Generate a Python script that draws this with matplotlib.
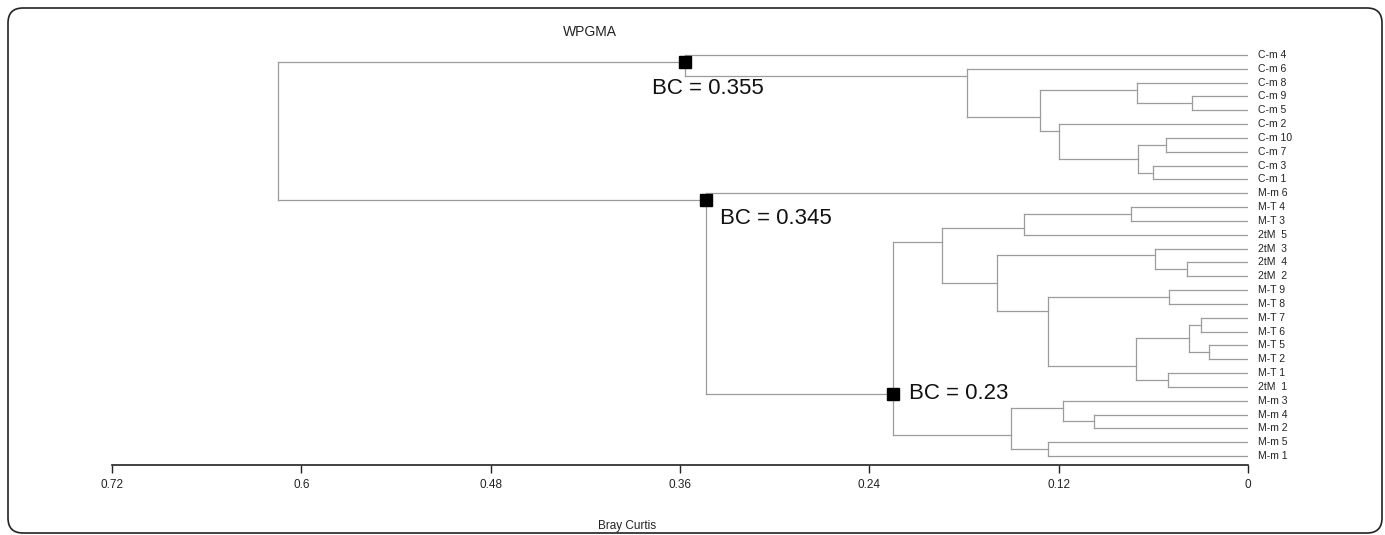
import matplotlib
matplotlib.use('Agg')
import matplotlib.pyplot as plt
from matplotlib.patches import FancyBboxPatch

plt.rcParams['font.family'] = ['Liberation Sans', 'DejaVu Sans']

# leaves in the order they are drawn, top to bottom
leaves = ['C-m 4', 'C-m 6', 'C-m 8', 'C-m 9', 'C-m 5', 'C-m 2', 'C-m 10', 'C-m 7',
          'C-m 3', 'C-m 1', 'M-m 6', 'M-T 4', 'M-T 3', '2tM  5', '2tM  3', '2tM  4',
          '2tM  2', 'M-T 9', 'M-T 8', 'M-T 7', 'M-T 6', 'M-T 5', 'M-T 2', 'M-T 1',
          '2tM  1', 'M-m 3', 'M-m 4', 'M-m 2', 'M-m 5', 'M-m 1']

# merges (like a linkage table): ids >= 30 refer to earlier merges (30 + row)
left = [3, 2, 6, 8, 32, 5, 31, 1, 0,
        11, 39, 15, 14, 17, 19, 21, 44, 23, 46, 43, 42, 40,
        26, 25, 28, 53, 51, 10, 38]
right = [4, 30, 7, 9, 33, 34, 35, 36, 37,
         12, 13, 16, 41, 18, 20, 22, 45, 24, 47, 48, 49, 50,
         27, 52, 29, 54, 55, 56, 57]
height = [0.0357, 0.0705, 0.0522, 0.060, 0.0699, 0.1196, 0.1318, 0.1783, 0.357,
          0.0739, 0.1417, 0.0387, 0.0591, 0.0503, 0.030, 0.0247, 0.0377, 0.0506,
          0.071, 0.1269, 0.159, 0.194,
          0.0976, 0.117, 0.127, 0.150, 0.225, 0.3435, 0.6148]

# annotated nodes
bc_nodes = [38, 57, 56]
bc_text = ['BC = 0.355', 'BC = 0.345', 'BC = 0.23']

xticks = [0.72, 0.6, 0.48, 0.36, 0.24, 0.12, 0]
xtick_labels = ['0.72', '0.6', '0.48', '0.36', '0.24', '0.12', '0']

fig = plt.figure(figsize=(13.85, 5.35), dpi=100)
ax = fig.add_axes([112 / 1385, 70 / 535, 1136 / 1385, 425 / 535])

line_col = '#9c9c9c'
n = len(leaves)
first, last, ypos, xpos = {}, {}, {}, {}
for i in range(n):
    first[i] = last[i] = i
    ypos[i] = i
    xpos[i] = 0.0

for k, (a, b, h) in enumerate(zip(left, right, height)):
    node = n + k
    first[node] = first[a]
    last[node] = last[b]
    ypos[node] = (last[a] + first[b]) / 2
    xpos[node] = h
    ax.plot([h, h], [ypos[a], ypos[b]], color=line_col, lw=0.9)
    ax.plot([xpos[a], h], [ypos[a], ypos[a]], color=line_col, lw=0.9)
    ax.plot([xpos[b], h], [ypos[b], ypos[b]], color=line_col, lw=0.9)

for i, name in enumerate(leaves):
    ax.text(-0.0063, i, name, ha='left', va='center', fontsize=7.5,
            color='#222222', clip_on=False)

offsets = [(-33, -27), (14, -18), (16, 0)]
for node, txt, off in zip(bc_nodes, bc_text, offsets):
    ax.plot(xpos[node], ypos[node], marker='s', color='black', markersize=8.6,
            zorder=5, clip_on=False)
    ax.annotate(txt, (xpos[node], ypos[node]), xytext=off, textcoords='offset pixels',
                ha='left', va='center', fontsize=16, color='#111111')

ax.set_xlim(0.72, 0)
ax.set_ylim(29 + 9 / 13.83, -15 / 13.83)
for s in ['top', 'left', 'right']:
    ax.spines[s].set_visible(False)
ax.spines['bottom'].set_linewidth(1.2)
ax.spines['bottom'].set_color('#222222')
ax.set_yticks([])
ax.set_xticks(xticks)
ax.set_xticklabels(xtick_labels)
ax.tick_params(axis='x', direction='out', length=6, width=1, colors='#222222',
               labelsize=8.5, pad=4)

fig.text(590 / 1385, 1 - 32 / 535, 'WPGMA', ha='center', va='center', fontsize=10,
         color='#222222')
fig.text(627 / 1385, 1 - 526 / 535, 'Bray Curtis', ha='center', va='center',
         fontsize=8.5, color='#222222')

frame = FancyBboxPatch((0.08, 0.02), 13.74, 5.25,
                       boxstyle='round,pad=0,rounding_size=0.15',
                       transform=fig.dpi_scale_trans, fill=False,
                       edgecolor='#222222', lw=1.2)
fig.patches.append(frame)

fig.savefig('out.png', dpi=100)
